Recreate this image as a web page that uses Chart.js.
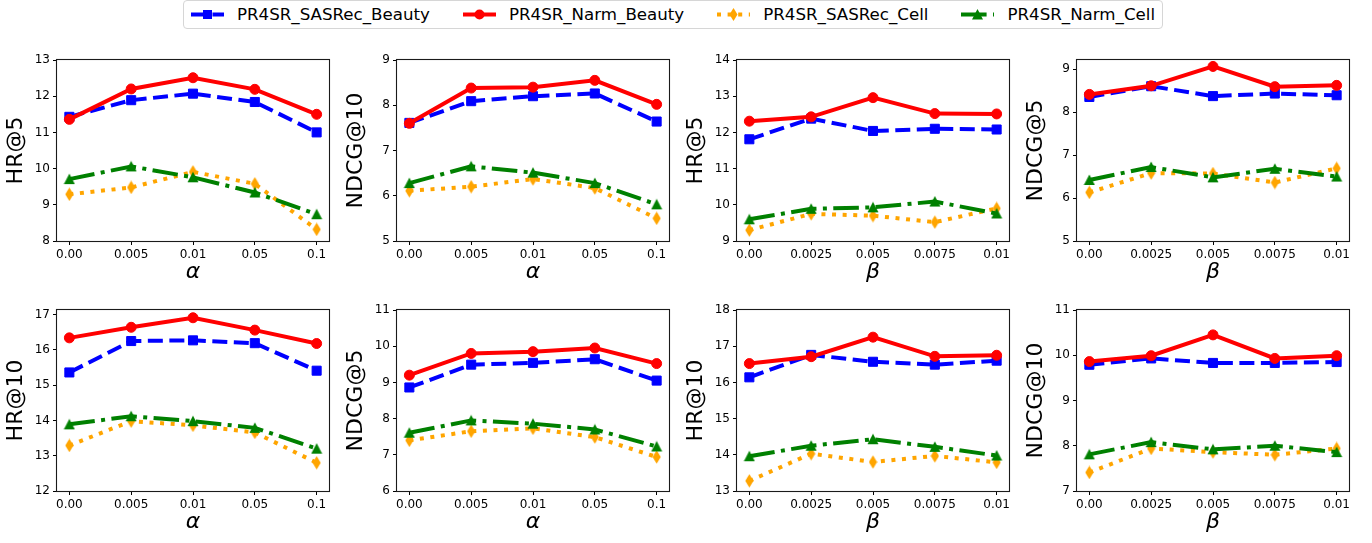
<!DOCTYPE html>
<html>
<head>
<meta charset="utf-8">
<script src="https://cdn.jsdelivr.net/npm/chart.js@4.4.1/dist/chart.umd.min.js"></script>
<style>
    body {
        margin: 0;
        width: 1372px;
        height: 543px;
        background: #fff;
        position: relative;
        overflow: hidden;
        font-family: "DejaVu Sans", sans-serif;
    }
    .panel {
        position: absolute;
        width: 340px;
        height: 250px;
    }
    #legend {
        position: absolute;
        top: 0;
        left: 183px;
        height: 27px;
        padding: 0 7px;
        border: 1px solid #d6d6d6;
        border-radius: 4px;
        display: flex;
        align-items: center;
        font-size: 16.67px;
        color: #000;
        white-space: nowrap;
    }
    .item {
        display: flex;
        align-items: center;
        margin-right: 33px;
    }
    .item:last-child { margin-right: 0; }
    .item svg { margin-right: 13px; }
</style>
</head>
<body>

<div id="legend"></div>

<div class="panel" style="left:0px;top:40px"><canvas id="c1" width="340" height="250"></canvas></div>
<div class="panel" style="left:340px;top:40px"><canvas id="c2" width="340" height="250"></canvas></div>
<div class="panel" style="left:680px;top:40px"><canvas id="c3" width="340" height="250"></canvas></div>
<div class="panel" style="left:1020px;top:40px"><canvas id="c4" width="340" height="250"></canvas></div>
<div class="panel" style="left:0px;top:290px"><canvas id="c5" width="340" height="250"></canvas></div>
<div class="panel" style="left:340px;top:290px"><canvas id="c6" width="340" height="250"></canvas></div>
<div class="panel" style="left:680px;top:290px"><canvas id="c7" width="340" height="250"></canvas></div>
<div class="panel" style="left:1020px;top:290px"><canvas id="c8" width="340" height="250"></canvas></div>

<script>
/* ===============================
   DATA
=============================== */
const alphaLabels = ["0.00", "0.005", "0.01", "0.05", "0.1"];
const betaLabels = ["0.00", "0.0025", "0.005", "0.0075", "0.01"];

const seriesNames = ["PR4SR_SASRec_Beauty", "PR4SR_Narm_Beauty", "PR4SR_SASRec_Cell", "PR4SR_Narm_Cell"];

// HR@5 vs alpha
const hr5A_sasBeauty = [11.43, 11.89, 12.07, 11.84, 11.00];
const hr5A_narmBeauty = [11.36, 12.20, 12.51, 12.19, 11.50];
const hr5A_sasCell = [9.29, 9.48, 9.91, 9.58, 8.32];
const hr5A_narmCell = [9.71, 10.06, 9.76, 9.34, 8.74];

// NDCG@10 vs alpha
const ndcg10A_sasBeauty = [7.61, 8.09, 8.20, 8.26, 7.64];
const ndcg10A_narmBeauty = [7.60, 8.38, 8.40, 8.55, 8.02];
const ndcg10A_sasCell = [6.11, 6.20, 6.37, 6.17, 5.50];
const ndcg10A_narmCell = [6.28, 6.65, 6.51, 6.28, 5.81];

// HR@5 vs beta
const hr5B_sasBeauty = [11.81, 12.38, 12.04, 12.10, 12.08];
const hr5B_narmBeauty = [12.31, 12.43, 12.96, 12.52, 12.51];
const hr5B_sasCell = [9.30, 9.75, 9.70, 9.52, 9.90];
const hr5B_narmCell = [9.60, 9.89, 9.93, 10.09, 9.76];

// NDCG@5 vs beta
const ndcg5B_sasBeauty = [8.35, 8.60, 8.37, 8.43, 8.39];
const ndcg5B_narmBeauty = [8.41, 8.61, 9.06, 8.59, 8.62];
const ndcg5B_sasCell = [6.13, 6.58, 6.57, 6.36, 6.69];
const ndcg5B_narmCell = [6.42, 6.72, 6.48, 6.68, 6.50];

// HR@10 vs alpha
const hr10A_sasBeauty = [15.36, 16.25, 16.27, 16.19, 15.41];
const hr10A_narmBeauty = [16.34, 16.64, 16.91, 16.56, 16.18];
const hr10A_sasCell = [13.29, 13.98, 13.86, 13.66, 12.80];
const hr10A_narmCell = [13.89, 14.12, 13.98, 13.79, 13.20];

// NDCG@5 vs alpha
const ndcg5A_sasBeauty = [8.86, 9.49, 9.54, 9.64, 9.05];
const ndcg5A_narmBeauty = [9.20, 9.80, 9.85, 9.95, 9.52];
const ndcg5A_sasCell = [7.40, 7.65, 7.73, 7.49, 6.94];
const ndcg5A_narmCell = [7.61, 7.95, 7.86, 7.70, 7.23];

// HR@10 vs beta
const hr10B_sasBeauty = [16.14, 16.76, 16.57, 16.49, 16.60];
const hr10B_narmBeauty = [16.52, 16.71, 17.25, 16.72, 16.75];
const hr10B_sasCell = [13.28, 14.03, 13.80, 13.97, 13.79];
const hr10B_narmCell = [13.96, 14.25, 14.43, 14.22, 13.98];

// NDCG@10 vs beta
const ndcg10B_sasBeauty = [9.79, 9.93, 9.83, 9.83, 9.85];
const ndcg10B_narmBeauty = [9.86, 9.99, 10.45, 9.93, 9.99];
const ndcg10B_sasCell = [7.41, 7.94, 7.86, 7.80, 7.94];
const ndcg10B_narmCell = [7.81, 8.08, 7.92, 8.00, 7.86];

// y ticks per panel
const ticksHr5A = [8, 9, 10, 11, 12, 13];
const ticksNdcg10A = [5, 6, 7, 8, 9];
const ticksHr5B = [9, 10, 11, 12, 13, 14];
const ticksNdcg5B = [5, 6, 7, 8, 9];
const ticksHr10A = [12, 13, 14, 15, 16, 17];
const ticksNdcg5A = [6, 7, 8, 9, 10, 11];
const ticksHr10B = [13, 14, 15, 16, 17, 18];
const ticksNdcg10B = [7, 8, 9, 10, 11];

/* ===============================
   STYLE
=============================== */
const FONT = "'DejaVu Sans', sans-serif";
const colors = ["#0000ff", "#ff0000", "#ffa500", "#008000"];
const dashes = [[15, 6.5], [], [4, 6.6], [25.6, 6.4, 4, 6.4]];

function makeMarker(kind, color) {
    const c = document.createElement("canvas");
    const g = c.getContext("2d");
    g.fillStyle = color;
    g.beginPath();
    if (kind === "triangle") {
        c.width = 12; c.height = 12;
        g.fillStyle = color;
        g.beginPath();
        g.moveTo(6, 0.5);
        g.lineTo(11.5, 11);
        g.lineTo(0.5, 11);
    } else {
        c.width = 9; c.height = 14;
        g.fillStyle = color;
        g.beginPath();
        g.moveTo(4.5, 0.3);
        g.lineTo(8.6, 7);
        g.lineTo(4.5, 13.7);
        g.lineTo(0.4, 7);
    }
    g.closePath();
    g.fill();
    return c;
}

const pointStyles = ["rect", "circle", makeMarker("diamond", colors[2]), makeMarker("triangle", colors[3])];
const pointRadii = [6.4, 5, 5, 5];

const panels = [
    { id: "c1", yTitle: "HR@5", xTitle: "α", labels: alphaLabels, yMin: 8, yMax: 13, yTicks: ticksHr5A,
      series: [hr5A_sasBeauty, hr5A_narmBeauty, hr5A_sasCell, hr5A_narmCell] },
    { id: "c2", yTitle: "NDCG@10", xTitle: "α", labels: alphaLabels, yMin: 5, yMax: 9, yTicks: ticksNdcg10A,
      series: [ndcg10A_sasBeauty, ndcg10A_narmBeauty, ndcg10A_sasCell, ndcg10A_narmCell] },
    { id: "c3", yTitle: "HR@5", xTitle: "β", labels: betaLabels, yMin: 9, yMax: 14, yTicks: ticksHr5B,
      series: [hr5B_sasBeauty, hr5B_narmBeauty, hr5B_sasCell, hr5B_narmCell] },
    { id: "c4", yTitle: "NDCG@5", xTitle: "β", labels: betaLabels, yMin: 5, yMax: 9.21, yTicks: ticksNdcg5B,
      series: [ndcg5B_sasBeauty, ndcg5B_narmBeauty, ndcg5B_sasCell, ndcg5B_narmCell] },
    { id: "c5", yTitle: "HR@10", xTitle: "α", labels: alphaLabels, yMin: 12, yMax: 17.13, yTicks: ticksHr10A,
      series: [hr10A_sasBeauty, hr10A_narmBeauty, hr10A_sasCell, hr10A_narmCell] },
    { id: "c6", yTitle: "NDCG@5", xTitle: "α", labels: alphaLabels, yMin: 6, yMax: 11, yTicks: ticksNdcg5A,
      series: [ndcg5A_sasBeauty, ndcg5A_narmBeauty, ndcg5A_sasCell, ndcg5A_narmCell] },
    { id: "c7", yTitle: "HR@10", xTitle: "β", labels: betaLabels, yMin: 13, yMax: 18, yTicks: ticksHr10B,
      series: [hr10B_sasBeauty, hr10B_narmBeauty, hr10B_sasCell, hr10B_narmCell] },
    { id: "c8", yTitle: "NDCG@10", xTitle: "β", labels: betaLabels, yMin: 7, yMax: 11, yTicks: ticksNdcg10B,
      series: [ndcg10B_sasBeauty, ndcg10B_narmBeauty, ndcg10B_sasCell, ndcg10B_narmCell] }
];

/* ===============================
   FRAME (all four spines)
=============================== */
const framePlugin = {
    id: "frame",
    afterDatasetsDraw(chart) {
        const a = chart.chartArea;
        const g = chart.ctx;
        g.save();
        g.strokeStyle = "#1a1a1a";
        g.lineWidth = 1.1;
        g.strokeRect(Math.round(a.left) - 0.5, Math.round(a.top) - 0.5,
            Math.round(a.right - a.left) + 1, Math.round(a.bottom - a.top) + 1);
        g.restore();
    }
};

/* ===============================
   CHARTS
=============================== */
function buildPanel(p) {
    const datasets = p.series.map((vals, i) => ({
        label: seriesNames[i],
        data: vals.map((v, k) => ({ x: k, y: v })),
        borderColor: colors[i],
        backgroundColor: colors[i],
        borderWidth: 4,
        borderDash: dashes[i],
        borderCapStyle: "butt",
        pointStyle: pointStyles[i],
        pointRadius: pointRadii[i],
        pointBorderWidth: 1,
        pointBorderColor: colors[i],
        pointBackgroundColor: colors[i],
        tension: 0,
        order: 3 - i
    }));

    new Chart(document.getElementById(p.id), {
        type: "line",
        data: { datasets: datasets },
        options: {
            responsive: false,
            animation: false,
            layout: { padding: { top: 20, right: 11, left: 0, bottom: 0 } },
            plugins: {
                legend: { display: false },
                tooltip: { enabled: false }
            },
            scales: {
                x: {
                    type: "linear",
                    min: -0.2,
                    max: 4.2,
                    afterBuildTicks: axis => {
                        axis.ticks = p.labels.map((l, k) => ({ value: k }));
                    },
                    afterFit: axis => { axis.height = 49; },
                    ticks: {
                        callback: v => p.labels[v],
                        color: "#000",
                        font: { family: FONT, size: 12 },
                        padding: 3,
                        maxRotation: 0,
                        autoSkip: false
                    },
                    grid: { drawOnChartArea: false, drawTicks: true, tickLength: 4, color: "#000" },
                    border: { display: false },
                    title: {
                        display: true,
                        text: p.xTitle,
                        color: "#000",
                        font: { family: FONT, size: 22, style: "italic" },
                        padding: { top: 0, bottom: 5 }
                    }
                },
                y: {
                    type: "linear",
                    min: p.yMin,
                    max: p.yMax,
                    afterBuildTicks: axis => {
                        axis.ticks = p.yTicks.map(v => ({ value: v }));
                    },
                    afterFit: axis => { axis.width = 57; },
                    ticks: {
                        callback: v => String(v),
                        color: "#000",
                        font: { family: FONT, size: 12 },
                        padding: 3
                    },
                    grid: { drawOnChartArea: false, drawTicks: true, tickLength: 4, color: "#000" },
                    border: { display: false },
                    title: {
                        display: true,
                        text: p.yTitle,
                        color: "#000",
                        font: { family: FONT, size: 22 },
                        padding: { top: 3.5, bottom: 0 }
                    }
                }
            }
        },
        plugins: [framePlugin]
    });
}

panels.forEach(buildPanel);

/* ===============================
   LEGEND
=============================== */
function legendMarker(i) {
    const c = colors[i];
    if (i === 0) return '<rect x="12" y="4" width="9" height="9" fill="' + c + '"/>';
    if (i === 1) return '<circle cx="16.5" cy="8.5" r="5" fill="' + c + '"/>';
    if (i === 2) return '<polygon points="16.5,2 20.5,8.5 16.5,15 12.5,8.5" fill="' + c + '"/>';
    return '<polygon points="16.5,3 22,13.5 11,13.5" fill="' + c + '"/>';
}

function buildLegend() {
    const box = document.getElementById("legend");
    let html = "";
    seriesNames.forEach((name, i) => {
        html += '<div class="item"><svg width="33" height="17">' +
            '<line x1="0" y1="8.5" x2="33" y2="8.5" stroke="' + colors[i] + '" stroke-width="4"' +
            (dashes[i].length ? ' stroke-dasharray="' + dashes[i].join(",") + '"' : "") + '/>' +
            legendMarker(i) + '</svg><span>' + name + '</span></div>';
    });
    box.innerHTML = html;
}

buildLegend();
</script>
</body>
</html>
